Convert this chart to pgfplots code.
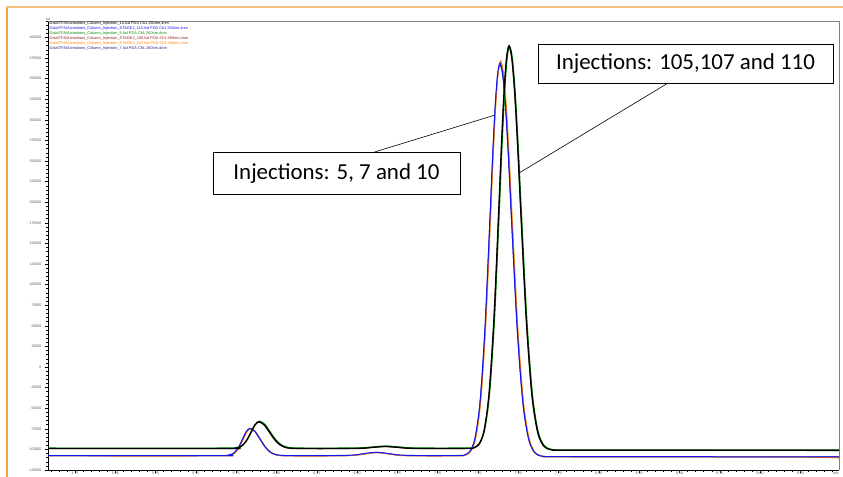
\documentclass[border=0pt]{standalone}
\usepackage{pgfplots}
\pgfplotsset{compat=1.18}
\usepackage{fontspec}
\setmainfont{Carlito}
\newfontfamily\arial{Liberation Sans}

\definecolor{cblue}{RGB}{20,20,240}
\definecolor{cnavy}{RGB}{30,30,140}
\definecolor{corange}{RGB}{255,128,0}
\definecolor{cgreen}{RGB}{0,135,0}
\definecolor{cred}{RGB}{150,30,30}
\definecolor{frameA}{RGB}{240,160,70}
\definecolor{frameB}{RGB}{246,190,130}

\begin{document}
\begin{tikzpicture}[x=1bp,y=1bp]
% slide frame
\draw[frameA, line width=2bp] (7,0) -- (7,470);
\draw[frameB, line width=2bp] (6,470) -- (843,470);

\begin{axis}[
  at={(48bp,7bp)}, anchor=south west,
  scale only axis, width=791bp, height=449bp,
  xmin=4.5825, xmax=9.4895, ymin=-125000, ymax=420000,
  axis lines*=left, axis line style={line width=0.8bp, -},
  xtick distance=0.25, minor x tick num=4,
  ytick distance=25000, minor y tick num=4,
  tick align=outside, major tick length=3bp, minor tick length=1.8bp,
  tick style={black, line width=0.5bp},
  scaled ticks=false,
  clip mode=individual,
  ticklabel style={font=\arial\fontsize{3.6}{4}\selectfont, text=black!65},
  /pgf/number format/assume math mode=true,
  x tick label style={inner sep=0.2bp, yshift=1.2bp, /pgf/number format/.cd, fixed, fixed zerofill, precision=2, 1000 sep={}},
  y tick label style={/pgf/number format/.cd, fixed, precision=0, 1000 sep={}},
  every axis plot/.append style={smooth, line width=1bp},
]
\draw[black!50, line width=0.8bp] (rel axis cs:0,1) -- (rel axis cs:1,1) -- (rel axis cs:1,0);

% early group
\addplot[cnavy] table {
x y
4.5825 -107700
5.65 -107690
5.6965 -107330
5.7198 -106250
5.743 -103240
5.7663 -96980
5.7895 -87690
5.8128 -78580
5.836 -74700
5.867 -78580
5.898 -87690
5.929 -96980
5.96 -103240
5.991 -106250
6.022 -107330
6.084 -107690
6.3224 -107700
6.4712 -107160
6.5456 -105270
6.62 -103700
6.6944 -105270
6.7688 -107160
6.9176 -107700
7.1385 -107560
7.1695 -106660
7.2005 -102430
7.2315 -86860
7.2625 -43470
7.2935 46440
7.3245 180200
7.34 250600
7.3555 311220
7.371 352380
7.3865 367000
7.4043 352340
7.4222 311080
7.44 250310
7.4578 179730
7.4935 45630
7.5291 -44510
7.5648 -88010
7.6004 -103620
7.6361 -107850
7.6717 -108760
7.7074 -108900
8.5 -109000
9.4895 -109100
};
\addplot[corange] table {
x y
4.5825 -108000
5.654 -107990
5.7005 -107630
5.7238 -106550
5.747 -103540
5.7703 -97280
5.7935 -87990
5.8168 -78880
5.84 -75000
5.871 -78880
5.902 -87990
5.933 -97280
5.964 -103540
5.995 -106550
6.026 -107630
6.088 -107990
6.3264 -108000
6.4752 -107460
6.5496 -105570
6.624 -104000
6.6984 -105570
6.7728 -107460
6.9216 -108000
7.1425 -107860
7.1735 -106950
7.2045 -102680
7.2355 -86950
7.2665 -43120
7.2975 47690
7.3285 182820
7.344 253920
7.3595 315160
7.375 356730
7.3905 371500
7.4083 356700
7.4262 315040
7.444 253680
7.4618 182420
7.4975 47020
7.5331 -43990
7.5688 -87910
7.6044 -103670
7.6401 -107940
7.6757 -108860
7.7114 -109000
8.5 -109100
9.2 -109300
9.4895 -110200
};
\addplot[cblue] table {
x y
4.5825 -107500
5.65 -107490
5.6965 -107130
5.7198 -106050
5.743 -103040
5.7663 -96780
5.7895 -87490
5.8128 -78380
5.836 -74500
5.867 -78380
5.898 -87490
5.929 -96780
5.96 -103040
5.991 -106050
6.022 -107130
6.084 -107490
6.3224 -107500
6.4712 -106960
6.5456 -105070
6.62 -103500
6.6944 -105070
6.7688 -106960
6.9176 -107500
7.1385 -107360
7.1695 -106450
7.2005 -102210
7.2315 -86580
7.2625 -43030
7.2935 47220
7.3245 181490
7.34 252160
7.3555 313010
7.371 354320
7.3865 369000
7.4043 354280
7.4222 312860
7.44 251840
7.4578 180990
7.4935 46340
7.5291 -44150
7.5648 -87820
7.6004 -103500
7.6361 -107750
7.6717 -108660
7.7074 -108800
8.5 -108900
9.4895 -109000
};

% late group
\addplot[cred] table {
x y
4.5825 -99000
5.6926 -98990
5.7422 -98640
5.767 -97580
5.7918 -94620
5.8166 -88480
5.8414 -79350
5.8662 -70410
5.891 -66600
5.924 -70410
5.957 -79350
5.99 -88480
6.023 -94620
6.056 -97580
6.089 -98640
6.155 -98990
6.3774 -99000
6.5262 -98660
6.6006 -97480
6.675 -96500
6.7494 -97480
6.8238 -98660
6.9726 -99000
7.1943 -98850
7.2253 -97930
7.2563 -93590
7.2873 -77620
7.3183 -33110
7.3493 59130
7.3803 196370
7.3958 268590
7.4113 330780
7.4268 373000
7.4423 388000
7.4601 372940
7.478 330540
7.4958 268100
7.5136 195580
7.5493 57780
7.5849 -34840
7.6206 -79530
7.6562 -95570
7.6919 -99920
7.7275 -100850
7.7632 -101000
8.5 -101000
9.4895 -101200
};
\addplot[cgreen] table {
x y
4.5825 -98300
5.6966 -98290
5.7462 -97940
5.771 -96870
5.7958 -93890
5.8206 -87720
5.8454 -78530
5.8702 -69530
5.895 -65700
5.928 -69530
5.961 -78530
5.994 -87720
6.027 -93890
6.06 -96870
6.093 -97940
6.159 -98290
6.3814 -98300
6.5302 -97960
6.6046 -96780
6.679 -95800
6.7534 -96780
6.8278 -97960
6.9766 -98300
7.1983 -98150
7.2293 -97230
7.2603 -92890
7.2913 -76910
7.3223 -32370
7.3533 59930
7.3843 197250
7.3998 269510
7.4153 331740
7.4308 373990
7.4463 389000
7.4641 373920
7.482 331480
7.4998 268970
7.5176 196380
7.5533 58440
7.5889 -34270
7.6246 -79010
7.6602 -95070
7.6959 -99420
7.7315 -100350
7.7672 -100500
8.5 -100500
9.4895 -100700
};
\addplot[black, line width=1.3bp] table {
x y
4.5825 -99000
5.6926 -98990
5.7422 -98640
5.767 -97570
5.7918 -94590
5.8166 -88420
5.8414 -79230
5.8662 -70230
5.891 -66400
5.924 -70230
5.957 -79230
5.99 -88420
6.023 -94590
6.056 -97570
6.089 -98640
6.155 -98990
6.3774 -99000
6.5262 -98660
6.6006 -97480
6.675 -96500
6.7494 -97480
6.8238 -98660
6.9726 -99000
7.1943 -98850
7.2253 -97920
7.2563 -93570
7.2873 -77530
7.3183 -32840
7.3493 59780
7.3803 197580
7.3958 270100
7.4113 332540
7.4268 374940
7.4423 390000
7.4601 374880
7.478 332310
7.4958 269610
7.5136 196790
7.5493 58430
7.5849 -34570
7.6206 -79450
7.6562 -95550
7.6919 -99920
7.7275 -100850
7.7632 -101000
8.5 -101000
9.4895 -101200
};

% file list
\node[anchor=north west, inner sep=0pt, align=left, font=\arial\fontsize{3.9}{5}\selectfont]
  at (rel axis cs:0,1) [xshift=1.5bp, yshift=-0.6bp] {%
  \textcolor{black}{Data\textbackslash TFA\textbackslash Acrostions\_Column\_Injection\_10.lcd PDA Ch1 260nm,4nm}\\
  \textcolor{cblue}{Data\textbackslash TFA\textbackslash Acrostions\_Column\_Injection\_STAGE2\_110.lcd PDA Ch1 260nm,4nm}\\
  \textcolor{cgreen}{Data\textbackslash TFA\textbackslash Acrostions\_Column\_Injection\_5.lcd PDA Ch1 260nm,4nm}\\
  \textcolor{cred}{Data\textbackslash TFA\textbackslash Acrostions\_Column\_Injection\_STAGE2\_105.lcd PDA Ch1 260nm,4nm}\\
  \textcolor{corange}{Data\textbackslash TFA\textbackslash Acrostions\_Column\_Injection\_STAGE2\_107.lcd PDA Ch1 260nm,4nm}\\
  \textcolor{cnavy}{Data\textbackslash TFA\textbackslash Acrostions\_Column\_Injection\_7.lcd PDA Ch1 260nm,4nm}};
\node[anchor=south, inner sep=0.5bp, font=\arial\fontsize{3.6}{4}\selectfont, text=black!65] at (rel axis cs:0,1) {uV};
\node[anchor=north east, inner sep=0.2bp, font=\arial\fontsize{3.6}{4}\selectfont, text=black!65] at (rel axis cs:1,0) [yshift=-1.8bp] {min};

% annotations
\draw[black, line width=0.6bp] (axis cs:6.6074,260920) -- (axis cs:7.3555,305830);
\draw[black, line width=0.6bp] (axis cs:8.4286,344660) -- (axis cs:7.5044,235440);
\node[draw=black, line width=0.6bp, fill=white, minimum width=247bp, minimum height=42bp, inner sep=0pt,
  font=\fontsize{23}{27}\selectfont] at (axis cs:6.372,235440) {Injections: 5, 7 and 10};
\node[draw=black, line width=0.6bp, fill=white, minimum width=295bp, minimum height=39bp, inner sep=0pt,
  font=\fontsize{23}{27}\selectfont] at (axis cs:8.537,368330) {Injections: 105,107 and 110};
\end{axis}
\pgfresetboundingbox
\path[use as bounding box] (0,0) rectangle (843,477);
\end{tikzpicture}
\end{document}
